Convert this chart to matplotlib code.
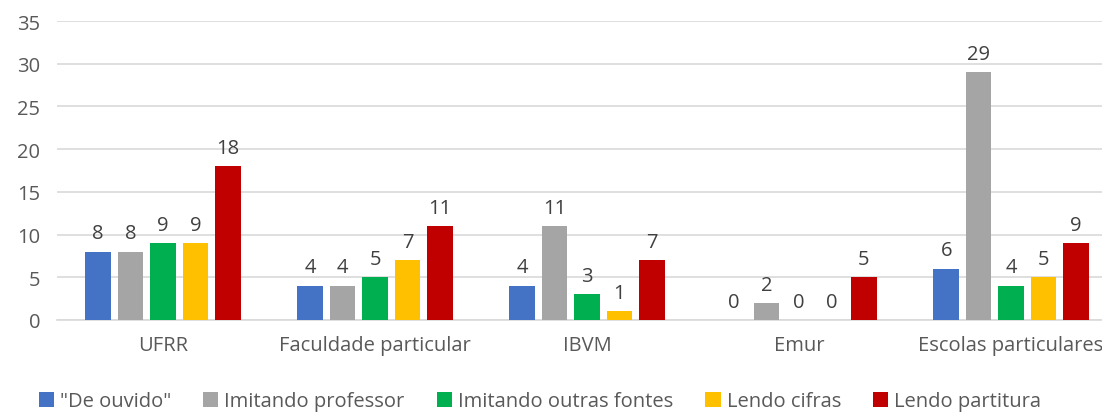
import numpy as np
import matplotlib.pyplot as plt

plt.rcParams['font.family'] = ['Open Sans', 'DejaVu Sans']

categorias = ["UFRR", "Faculdade particular", "IBVM", "Emur", "Escolas particulares"]
series = ['"De ouvido"', "Imitando professor", "Imitando outras fontes", "Lendo cifras", "Lendo partitura"]
de_ouvido = [8, 4, 4, 0, 6]
imitando_prof = [8, 4, 11, 2, 29]
imitando_outras = [9, 5, 3, 0, 4]
lendo_cifras = [9, 7, 1, 0, 5]
lendo_partitura = [18, 11, 7, 5, 9]
cores = ["#4472C4", "#A5A5A5", "#00B050", "#FFC000", "#C00000"]

valores = [de_ouvido, imitando_prof, imitando_outras, lendo_cifras, lendo_partitura]

fig = plt.figure(figsize=(11.02, 4.14), dpi=100)
# o eixo passa um pouco da borda direita, como no original
ax = fig.add_axes([57 / 1102, 1 - 321 / 414, 1060 / 1102, (321 - 22) / 414])

x = np.arange(len(categorias))
slot = 0.153
largura = 0.12
cinza = "#595959"
fs = 14.5

for i, (nome, vals, cor) in enumerate(zip(series, valores, cores)):
    pos = x + (i - 2) * slot
    barras = ax.bar(pos, vals, largura, color=cor, label=nome, zorder=3)
    for b, v in zip(barras, vals):
        ax.annotate(str(v), (b.get_x() + b.get_width() / 2, v),
                    xytext=(0, 6), textcoords="offset points",
                    ha="center", va="bottom", fontsize=fs, color="#404040")

ax.set_xlim(-0.5, 4.5)
ax.set_ylim(0, 35)
ax.set_yticks(range(0, 36, 5))
ax.set_xticks(x)
ax.set_xticklabels(categorias)
ax.yaxis.grid(True, color="#D9D9D9", linewidth=1.2, zorder=0)
for s in ["top", "right", "left"]:
    ax.spines[s].set_visible(False)
ax.spines["bottom"].set_color("#D9D9D9")
ax.spines["bottom"].set_linewidth(1.2)
ax.tick_params(axis="both", length=0, labelsize=fs, colors=cinza)
ax.tick_params(axis="x", pad=11)
ax.tick_params(axis="y", pad=12)

fig.legend(loc="lower center", bbox_to_anchor=(0.49, -0.04), ncol=5, frameon=False,
           fontsize=fs, handlelength=0.75, handleheight=0.75, handletextpad=0.3,
           columnspacing=1.6, labelcolor=cinza)

plt.savefig("out.png", dpi=100)
